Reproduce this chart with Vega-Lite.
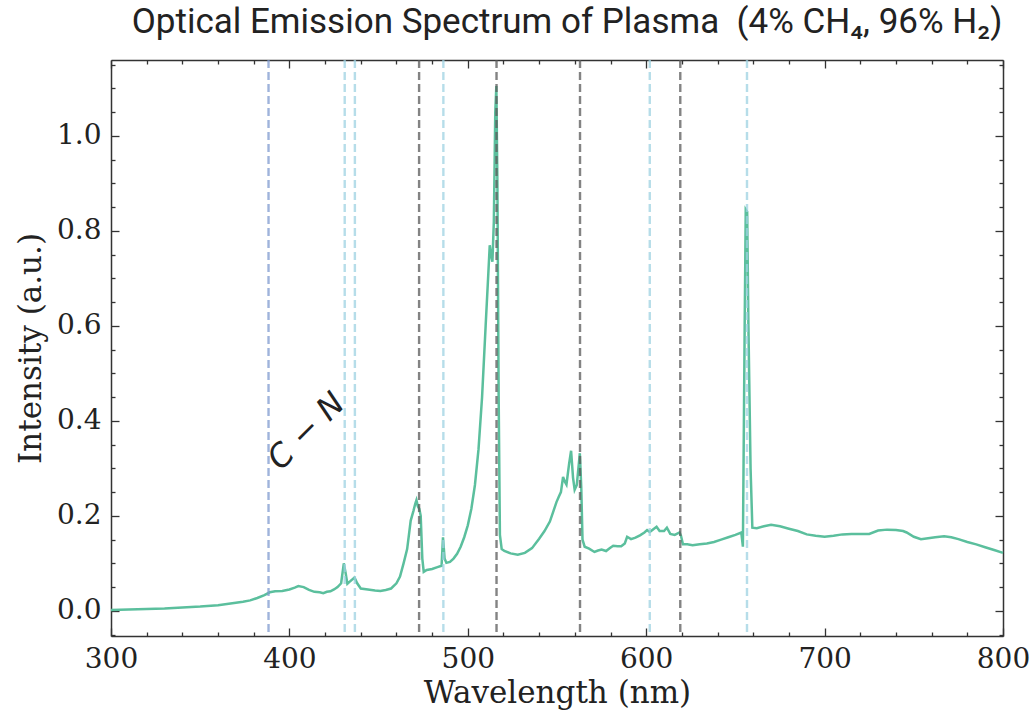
{
  "$schema": "https://vega.github.io/schema/vega-lite/v6.json",
  "width": 892,
  "height": 576,
  "autosize": {"type": "none"},
  "padding": {"left": 111, "top": 60, "right": 30, "bottom": 83},
  "background": "white",
  "title": {
    "text": "Optical Emission Spectrum of Plasma\u00a0\u00a0(4% CH₄, 96% H₂)",
    "font": "Roboto",
    "fontSize": 35,
    "fontWeight": "normal",
    "color": "#222222",
    "anchor": "middle",
    "offset": 19,
    "dx": 10
  },
  "config": {
    "view": {"stroke": null},
    "axis": {
      "grid": false,
      "domainColor": "#333333",
      "domainWidth": 1.5,
      "tickColor": "#333333",
      "tickWidth": 1.3,
      "labelFont": "DejaVu Serif",
      "labelFontSize": 28,
      "labelColor": "#222222",
      "titleFont": "DejaVu Serif",
      "titleFontSize": 31,
      "titleFontWeight": "normal",
      "titleColor": "#222222"
    }
  },
  "datasets": {
    "spectrum": [
      {"wavelength": 300, "intensity": 0.002},
      {"wavelength": 310, "intensity": 0.003},
      {"wavelength": 320, "intensity": 0.004},
      {"wavelength": 330, "intensity": 0.005},
      {"wavelength": 340, "intensity": 0.007},
      {"wavelength": 350, "intensity": 0.009},
      {"wavelength": 360, "intensity": 0.012},
      {"wavelength": 368, "intensity": 0.016},
      {"wavelength": 374, "intensity": 0.019},
      {"wavelength": 378, "intensity": 0.022},
      {"wavelength": 382, "intensity": 0.027},
      {"wavelength": 386, "intensity": 0.033},
      {"wavelength": 389, "intensity": 0.039},
      {"wavelength": 392, "intensity": 0.041},
      {"wavelength": 396, "intensity": 0.042},
      {"wavelength": 400, "intensity": 0.045},
      {"wavelength": 403, "intensity": 0.049},
      {"wavelength": 405, "intensity": 0.052},
      {"wavelength": 408, "intensity": 0.05},
      {"wavelength": 411, "intensity": 0.044},
      {"wavelength": 414, "intensity": 0.04},
      {"wavelength": 417, "intensity": 0.039},
      {"wavelength": 419, "intensity": 0.037},
      {"wavelength": 421, "intensity": 0.04},
      {"wavelength": 423, "intensity": 0.041},
      {"wavelength": 425, "intensity": 0.045},
      {"wavelength": 427, "intensity": 0.05},
      {"wavelength": 429, "intensity": 0.058},
      {"wavelength": 430.5, "intensity": 0.1},
      {"wavelength": 431.5, "intensity": 0.08},
      {"wavelength": 432.5, "intensity": 0.057},
      {"wavelength": 434, "intensity": 0.062},
      {"wavelength": 436.5, "intensity": 0.07},
      {"wavelength": 438, "intensity": 0.058},
      {"wavelength": 440, "intensity": 0.047},
      {"wavelength": 444, "intensity": 0.045},
      {"wavelength": 448, "intensity": 0.043},
      {"wavelength": 451, "intensity": 0.042},
      {"wavelength": 454, "intensity": 0.044},
      {"wavelength": 457, "intensity": 0.047},
      {"wavelength": 460, "intensity": 0.058},
      {"wavelength": 462, "intensity": 0.072},
      {"wavelength": 464, "intensity": 0.1},
      {"wavelength": 466, "intensity": 0.13},
      {"wavelength": 468, "intensity": 0.19},
      {"wavelength": 469.5, "intensity": 0.21},
      {"wavelength": 470.5, "intensity": 0.225},
      {"wavelength": 471.2, "intensity": 0.233},
      {"wavelength": 472, "intensity": 0.22},
      {"wavelength": 472.8, "intensity": 0.215},
      {"wavelength": 473.6, "intensity": 0.2},
      {"wavelength": 474.5, "intensity": 0.11},
      {"wavelength": 475.3, "intensity": 0.082},
      {"wavelength": 477, "intensity": 0.086},
      {"wavelength": 480, "intensity": 0.088},
      {"wavelength": 483, "intensity": 0.092},
      {"wavelength": 485.3, "intensity": 0.095},
      {"wavelength": 486.1, "intensity": 0.155},
      {"wavelength": 487, "intensity": 0.11},
      {"wavelength": 488, "intensity": 0.101},
      {"wavelength": 490, "intensity": 0.103},
      {"wavelength": 492, "intensity": 0.11},
      {"wavelength": 494, "intensity": 0.12},
      {"wavelength": 496, "intensity": 0.135},
      {"wavelength": 498, "intensity": 0.155},
      {"wavelength": 500, "intensity": 0.18},
      {"wavelength": 502, "intensity": 0.215},
      {"wavelength": 504, "intensity": 0.265},
      {"wavelength": 506, "intensity": 0.34},
      {"wavelength": 508, "intensity": 0.45},
      {"wavelength": 510, "intensity": 0.6},
      {"wavelength": 511.5, "intensity": 0.71},
      {"wavelength": 512.3, "intensity": 0.77},
      {"wavelength": 513, "intensity": 0.75},
      {"wavelength": 513.8, "intensity": 0.735},
      {"wavelength": 514.6, "intensity": 0.82},
      {"wavelength": 515.4, "intensity": 1.05},
      {"wavelength": 516, "intensity": 1.105},
      {"wavelength": 516.6, "intensity": 0.9},
      {"wavelength": 517.3, "intensity": 0.45},
      {"wavelength": 518, "intensity": 0.16},
      {"wavelength": 519, "intensity": 0.13},
      {"wavelength": 520.5, "intensity": 0.126},
      {"wavelength": 524, "intensity": 0.121},
      {"wavelength": 528, "intensity": 0.118},
      {"wavelength": 532, "intensity": 0.122},
      {"wavelength": 536, "intensity": 0.132},
      {"wavelength": 540, "intensity": 0.152},
      {"wavelength": 543, "intensity": 0.168},
      {"wavelength": 546, "intensity": 0.188},
      {"wavelength": 548, "intensity": 0.21},
      {"wavelength": 549.7, "intensity": 0.229},
      {"wavelength": 551, "intensity": 0.24},
      {"wavelength": 552.2, "intensity": 0.25},
      {"wavelength": 553.4, "intensity": 0.282},
      {"wavelength": 554.4, "intensity": 0.272},
      {"wavelength": 555.3, "intensity": 0.266},
      {"wavelength": 556.8, "intensity": 0.31},
      {"wavelength": 557.9, "intensity": 0.337},
      {"wavelength": 559, "intensity": 0.28},
      {"wavelength": 559.9, "intensity": 0.255},
      {"wavelength": 561.1, "intensity": 0.265},
      {"wavelength": 562.8, "intensity": 0.332},
      {"wavelength": 563.6, "intensity": 0.26},
      {"wavelength": 564.3, "intensity": 0.15},
      {"wavelength": 565.5, "intensity": 0.135},
      {"wavelength": 568, "intensity": 0.131},
      {"wavelength": 571, "intensity": 0.124},
      {"wavelength": 573, "intensity": 0.127},
      {"wavelength": 575, "intensity": 0.129},
      {"wavelength": 577.5, "intensity": 0.126},
      {"wavelength": 579.5, "intensity": 0.132},
      {"wavelength": 581.5, "intensity": 0.137},
      {"wavelength": 584, "intensity": 0.136},
      {"wavelength": 586, "intensity": 0.136},
      {"wavelength": 588, "intensity": 0.142},
      {"wavelength": 589.3, "intensity": 0.156},
      {"wavelength": 591.5, "intensity": 0.151},
      {"wavelength": 594, "intensity": 0.154},
      {"wavelength": 596.5, "intensity": 0.159},
      {"wavelength": 599, "intensity": 0.165},
      {"wavelength": 600.5, "intensity": 0.17},
      {"wavelength": 602, "intensity": 0.166},
      {"wavelength": 604, "intensity": 0.172},
      {"wavelength": 605.8, "intensity": 0.177},
      {"wavelength": 607.5, "intensity": 0.168},
      {"wavelength": 610, "intensity": 0.168},
      {"wavelength": 611.6, "intensity": 0.175},
      {"wavelength": 613.5, "intensity": 0.162},
      {"wavelength": 616, "intensity": 0.16},
      {"wavelength": 618.7, "intensity": 0.165},
      {"wavelength": 619.5, "intensity": 0.158},
      {"wavelength": 620.6, "intensity": 0.14},
      {"wavelength": 623, "intensity": 0.14},
      {"wavelength": 626, "intensity": 0.138},
      {"wavelength": 630, "intensity": 0.14},
      {"wavelength": 634, "intensity": 0.142},
      {"wavelength": 638, "intensity": 0.145},
      {"wavelength": 642, "intensity": 0.15},
      {"wavelength": 646, "intensity": 0.155},
      {"wavelength": 650, "intensity": 0.16},
      {"wavelength": 653.3, "intensity": 0.165},
      {"wavelength": 654.2, "intensity": 0.135},
      {"wavelength": 655.2, "intensity": 0.6},
      {"wavelength": 655.8, "intensity": 0.845},
      {"wavelength": 656.6, "intensity": 0.84},
      {"wavelength": 657.3, "intensity": 0.6},
      {"wavelength": 658.5, "intensity": 0.3},
      {"wavelength": 659.5, "intensity": 0.175},
      {"wavelength": 662, "intensity": 0.174},
      {"wavelength": 666, "intensity": 0.178},
      {"wavelength": 670, "intensity": 0.181},
      {"wavelength": 675, "intensity": 0.178},
      {"wavelength": 680, "intensity": 0.173},
      {"wavelength": 685, "intensity": 0.168},
      {"wavelength": 690, "intensity": 0.161},
      {"wavelength": 695, "intensity": 0.158},
      {"wavelength": 700, "intensity": 0.156},
      {"wavelength": 705, "intensity": 0.158},
      {"wavelength": 710, "intensity": 0.161},
      {"wavelength": 715, "intensity": 0.162},
      {"wavelength": 720, "intensity": 0.162},
      {"wavelength": 725, "intensity": 0.162},
      {"wavelength": 730, "intensity": 0.169},
      {"wavelength": 735, "intensity": 0.171},
      {"wavelength": 740, "intensity": 0.17},
      {"wavelength": 744, "intensity": 0.168},
      {"wavelength": 746, "intensity": 0.165},
      {"wavelength": 750, "intensity": 0.156},
      {"wavelength": 754, "intensity": 0.151},
      {"wavelength": 758, "intensity": 0.153},
      {"wavelength": 762, "intensity": 0.155},
      {"wavelength": 767, "intensity": 0.157},
      {"wavelength": 771, "intensity": 0.155},
      {"wavelength": 775, "intensity": 0.151},
      {"wavelength": 780, "intensity": 0.145},
      {"wavelength": 785, "intensity": 0.14},
      {"wavelength": 790, "intensity": 0.134},
      {"wavelength": 795, "intensity": 0.128},
      {"wavelength": 800, "intensity": 0.122}
    ],
    "lines": [
      {"wavelength": 388.3, "species": "CN"},
      {"wavelength": 431.0, "species": "H"},
      {"wavelength": 436.7, "species": "H"},
      {"wavelength": 472.7, "species": "C2"},
      {"wavelength": 486.3, "species": "H"},
      {"wavelength": 516.1, "species": "C2"},
      {"wavelength": 562.9, "species": "C2"},
      {"wavelength": 602.0, "species": "H"},
      {"wavelength": 619.1, "species": "C2"},
      {"wavelength": 656.5, "species": "H"}
    ]
  },
  "layer": [
    {
      "data": {"name": "spectrum"},
      "mark": {"type": "line", "color": "#5bbf9d", "strokeWidth": 2.5, "interpolate": "linear"},
      "encoding": {
        "x": {
          "field": "wavelength", "type": "quantitative",
          "scale": {"domain": [300, 800], "nice": false, "zero": false},
          "axis": {"orient": "bottom", "values": [300, 400, 500, 600, 700, 800], "tickSize": -8, "labelPadding": 17, "labelFlush": false, "labelOverlap": false, "title": "Wavelength (nm)", "titlePadding": 5}
        },
        "y": {
          "field": "intensity", "type": "quantitative",
          "scale": {"domain": [-0.053, 1.16], "nice": false, "zero": false},
          "axis": {"orient": "left", "values": [0, 0.2, 0.4, 0.6, 0.8, 1.0], "format": ".1f", "tickSize": -8, "labelPadding": 18, "labelOverlap": false, "title": "Intensity (a.u.)", "titlePadding": 9}
        }
      }
    },
    {
      "data": {"name": "spectrum"},
      "mark": {"type": "line", "opacity": 0},
      "encoding": {
        "x": {
          "field": "wavelength", "type": "quantitative",
          "scale": {"domain": [300, 800], "nice": false, "zero": false},
          "axis": {"orient": "bottom", "values": [320, 340, 360, 380, 420, 440, 460, 480, 520, 540, 560, 580, 620, 640, 660, 680, 720, 740, 760, 780], "tickSize": -4, "labels": false, "domain": false, "title": null}
        },
        "y": {
          "field": "intensity", "type": "quantitative",
          "scale": {"domain": [-0.053, 1.16], "nice": false, "zero": false},
          "axis": {"orient": "left", "values": [-0.05, 0.05, 0.1, 0.15, 0.25, 0.3, 0.35, 0.45, 0.5, 0.55, 0.65, 0.7, 0.75, 0.85, 0.9, 0.95, 1.05, 1.1, 1.15], "tickSize": -4, "labels": false, "domain": false, "title": null}
        }
      }
    },
    {
      "data": {"name": "spectrum"},
      "mark": {"type": "line", "opacity": 0},
      "encoding": {
        "x": {
          "field": "wavelength", "type": "quantitative",
          "scale": {"domain": [300, 800], "nice": false, "zero": false},
          "axis": {"orient": "top", "values": [300, 400, 500, 600, 700, 800], "tickSize": -8, "labels": false, "title": null}
        },
        "y": {
          "field": "intensity", "type": "quantitative",
          "scale": {"domain": [-0.053, 1.16], "nice": false, "zero": false},
          "axis": {"orient": "right", "values": [0, 0.2, 0.4, 0.6, 0.8, 1.0], "tickSize": -8, "labels": false, "title": null}
        }
      }
    },
    {
      "data": {"name": "spectrum"},
      "mark": {"type": "line", "opacity": 0},
      "encoding": {
        "x": {
          "field": "wavelength", "type": "quantitative",
          "scale": {"domain": [300, 800], "nice": false, "zero": false},
          "axis": {"orient": "top", "values": [320, 340, 360, 380, 420, 440, 460, 480, 520, 540, 560, 580, 620, 640, 660, 680, 720, 740, 760, 780], "tickSize": -4, "labels": false, "domain": false, "title": null}
        },
        "y": {
          "field": "intensity", "type": "quantitative",
          "scale": {"domain": [-0.053, 1.16], "nice": false, "zero": false},
          "axis": {"orient": "right", "values": [-0.05, 0.05, 0.1, 0.15, 0.25, 0.3, 0.35, 0.45, 0.5, 0.55, 0.65, 0.7, 0.75, 0.85, 0.9, 0.95, 1.05, 1.1, 1.15], "tickSize": -4, "labels": false, "domain": false, "title": null}
        }
      }
    },
    {
      "data": {"name": "lines"},
      "mark": {"type": "rule", "strokeWidth": 2.4, "strokeDash": [8, 4], "opacity": 0.75},
      "encoding": {
        "x": {
          "field": "wavelength", "type": "quantitative",
          "scale": {"domain": [300, 800], "nice": false, "zero": false},
          "axis": null
        },
        "color": {
          "field": "species", "type": "nominal",
          "scale": {"domain": ["CN", "H", "C2"], "range": ["#7f99cf", "#9ed2e2", "#5a5a5a"]},
          "legend": null
        }
      }
    },
    {
      "data": {"values": [{"label": "C − N"}]},
      "mark": {"type": "text", "font": "DejaVu Sans", "fontSize": 32, "fontStyle": "italic", "angle": -45, "color": "#222222", "align": "center", "baseline": "middle"},
      "encoding": {
        "x": {"datum": 409.5, "type": "quantitative", "scale": {"domain": [300, 800], "nice": false, "zero": false}, "axis": null},
        "y": {"datum": 0.378, "type": "quantitative", "scale": {"domain": [-0.053, 1.16], "nice": false, "zero": false}, "axis": null},
        "text": {"field": "label"}
      }
    }
  ],
  "resolve": {"axis": {"x": "independent", "y": "independent"}}
}
